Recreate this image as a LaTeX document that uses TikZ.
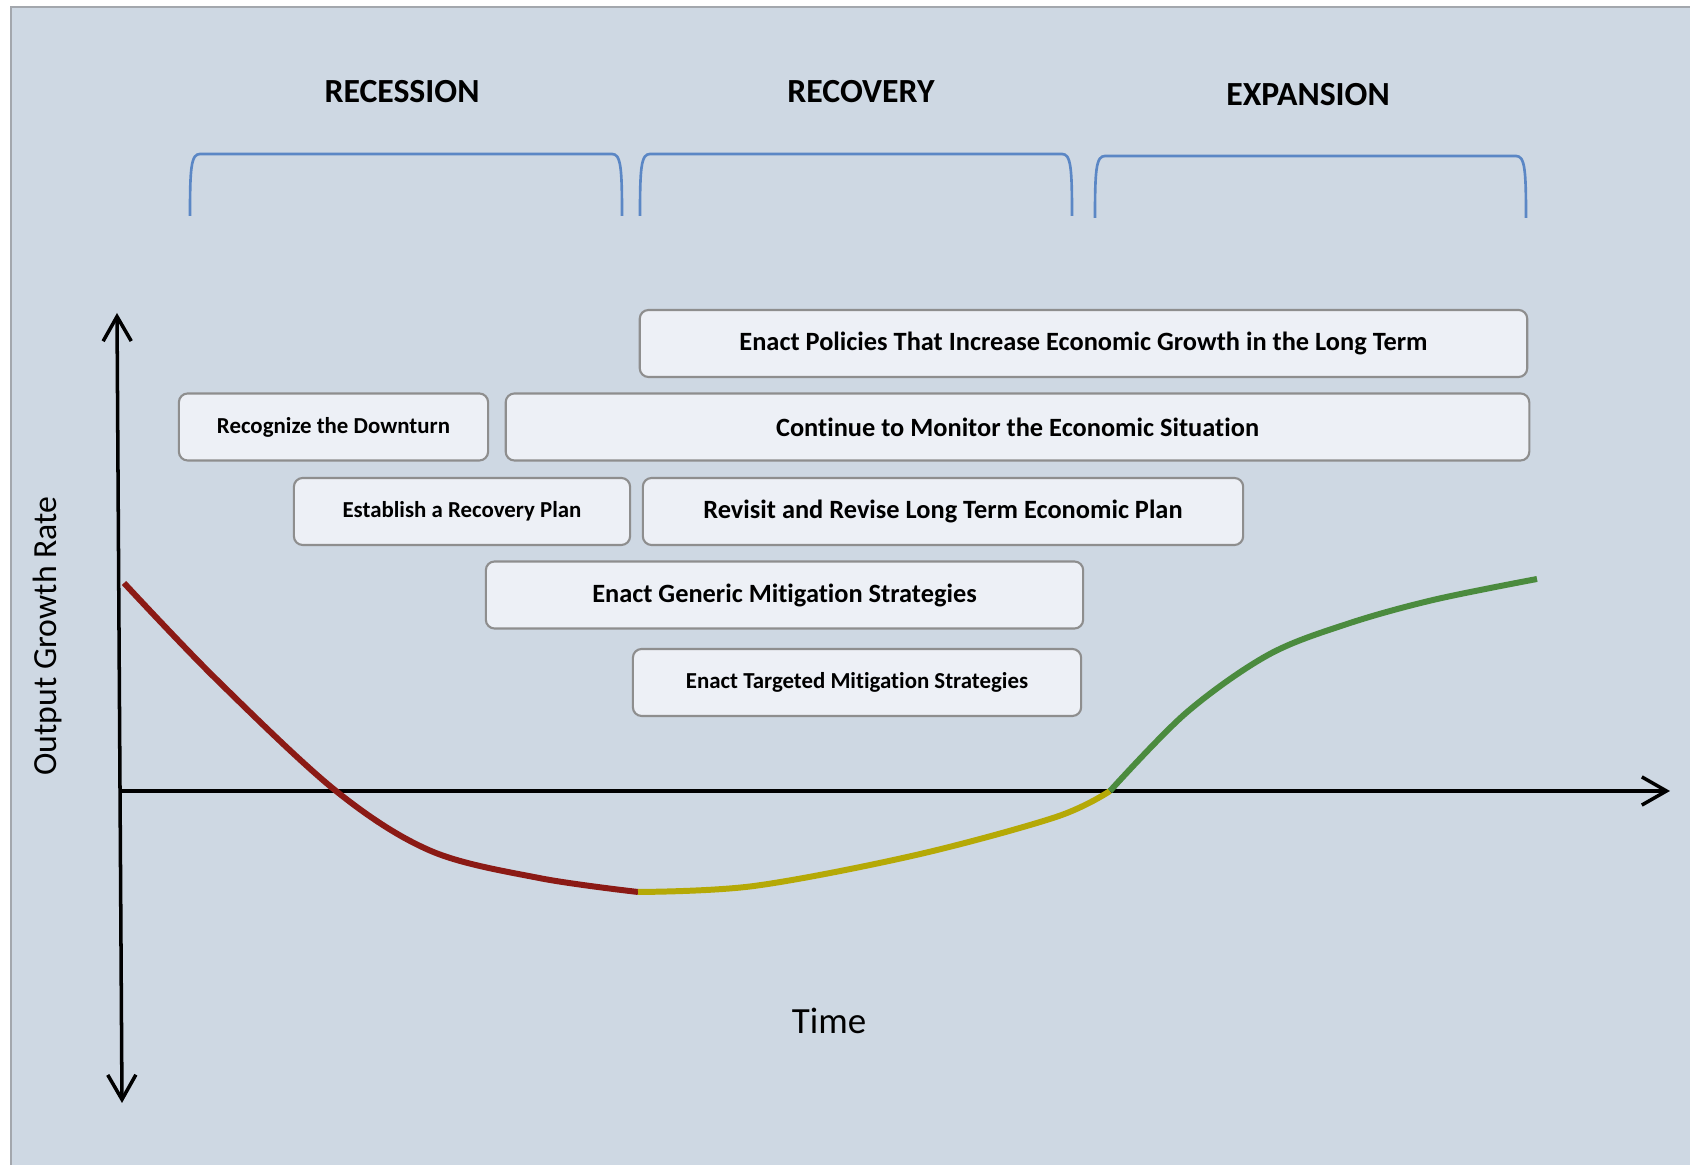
\documentclass[tikz,border=0pt]{standalone}
\usepackage{fontspec}
\setmainfont{Carlito}[Ligatures=NoCommon]
\usetikzlibrary{arrows.meta}
\definecolor{bg}{HTML}{CED8E3}
\definecolor{frameline}{HTML}{A3A7AD}
\definecolor{boxfill}{HTML}{EDF0F6}
\definecolor{boxline}{HTML}{8E8E8E}
\definecolor{brace}{HTML}{5B87C5}
\definecolor{down}{HTML}{8B1A15}
\definecolor{flat}{HTML}{B5A906}
\definecolor{up}{HTML}{4B8B3E}

\begin{document}
\begin{tikzpicture}[x=0.01cm, y=-0.01cm,
	phase/.style={font=\fontsize{9.6}{11}\selectfont\bfseries},
	task/.style={draw=boxline, fill=boxfill, line width=0.6pt, rounded corners=2.5pt, inner sep=0pt, minimum height=0.67cm, font=\fontsize{7.5}{9}\selectfont\bfseries},
	smalltask/.style={task, font=\fontsize{6.5}{8}\selectfont\bfseries},
	bracket/.style={draw=brace, line width=0.75pt},
	axis/.style={line width=1pt, {Straight Barb[length=7pt, width=8pt]}-{Straight Barb[length=7pt, width=8pt]}},
	growth/.style={line width=1.7pt, smooth, tension=0.55}]
	\useasboundingbox (0,0) rectangle (1690,1165);
	\fill[bg] (11,7) rectangle (1690,1165);
	\draw[frameline, line width=0.8pt] (11,1165) -- (11,7) -- (1690,7);

	% phases
	\node[phase] (rec) at (402,92) {RECESSION};
	\node[phase] (recov) at (861,92) {RECOVERY};
	\node[phase] (exp) at (1308,95) {EXPANSION};

	\draw[bracket] (190,216) .. controls (190,168) and (191,154) .. (200,154) -- (612,154) .. controls (621,154) and (622,168) .. (622,216);
	\draw[bracket] (640,216) .. controls (640,168) and (641,154) .. (650,154) -- (1062,154) .. controls (1071,154) and (1072,168) .. (1072,216);
	\draw[bracket] (1095,218) .. controls (1095,170) and (1096,156) .. (1105,156) -- (1516,156) .. controls (1525,156) and (1526,170) .. (1526,218);

	% tasks
	\node[task, minimum width=8.87cm] (policies) at (1083.5,343.5) {Enact Policies That Increase Economic Growth in the Long Term};
	\node[smalltask, minimum width=3.09cm] (recognize) at (333.5,427) {Recognize the Downturn};
	\node[task, minimum width=10.23cm] (monitor) at (1017.5,427) {Continue to Monitor the Economic Situation};
	\node[smalltask, minimum width=3.36cm] (establish) at (462,511.5) {Establish a Recovery Plan};
	\node[task, minimum width=6.00cm] (revisit) at (943,511.5) {Revisit and Revise Long Term Economic Plan};
	\node[task, minimum width=5.97cm] (generic) at (784.5,595) {Enact Generic Mitigation Strategies};
	\node[smalltask, minimum width=4.48cm] (targeted) at (857,682.5) {Enact Targeted Mitigation Strategies};

	% axes
	\coordinate (origin) at (121,791);
	\coordinate (ytop) at (117,313);
	\coordinate (ybot) at (122,1103);
	\coordinate (xend) at (1670,791);
	\draw[axis] (ybot) -- (ytop);
	\draw[line width=1pt, -{Straight Barb[length=7pt, width=8pt]}] (origin) -- (xend);
	\node[font=\fontsize{10.5}{12}\selectfont] (time) at (829,1021) {Time};
	\node[rotate=90, font=\fontsize{9.6}{12}\selectfont] (ylab) at (47,636) {Output Growth Rate};

	% growth curve
	\coordinate (low) at (638,892);
	\coordinate (cross) at (1110,791);
	\draw[growth, down] plot coordinates {(124,583) (216,679) (336,791) (431,851) (539,878) (638,892)};
	\draw[growth, flat] plot coordinates {(638,892) (754,886) (916,855) (1056,817) (1110,791)};
	\draw[growth, up] plot coordinates {(1110,791) (1186,713) (1268,655) (1347,624) (1433,600) (1537,579)};
\end{tikzpicture}
\end{document}
